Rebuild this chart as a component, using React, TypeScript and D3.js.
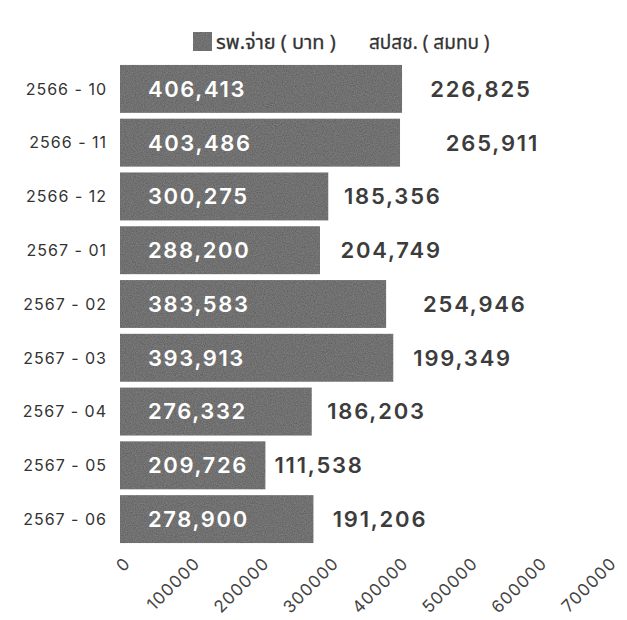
import React from "react";
import * as d3 from "d3";

const categories = ["2566 - 10", "2566 - 11", "2566 - 12", "2567 - 01", "2567 - 02", "2567 - 03", "2567 - 04", "2567 - 05", "2567 - 06"];
const hospitalPaid = [406413, 403486, 300275, 288200, 383583, 393913, 276332, 209726, 278900];
const nhsoShare = [226825, 265911, 185356, 204749, 254946, 199349, 186203, 111538, 191206];
const xTicks = [0, 100000, 200000, 300000, 400000, 500000, 600000, 700000];
const seriesNames = ["รพ.จ่าย ( บาท )", "สปสช. ( สมทบ )"];

const W = 627;
const H = 620;

export default function App() {
  const x = d3.scaleLinear().domain([0, 700000]).range([120, 606]);
  const y = d3.scaleBand<string>().domain(categories).range([62, 546]).paddingInner(0.11).paddingOuter(0.055);
  const fmt = d3.format(",");
  const bw = y.bandwidth();
  const barColor = "#565656";
  const numFont = "Inter, 'DejaVu Sans', sans-serif";
  const pnum = { fontVariantNumeric: "proportional-nums" } as React.CSSProperties;

  return (
    <svg width={W} height={H} style={{ position: "absolute", left: 0, top: 0, background: "#fff" }}>
      <defs>
        <filter id="grain" x="0" y="0" width="100%" height="100%">
          <feTurbulence type="fractalNoise" baseFrequency="0.9" numOctaves="2" seed="3" result="n" />
          <feColorMatrix in="n" type="matrix" values="0 0 0 0 0.5  0 0 0 0 0.5  0 0 0 0 0.5  0 0 0 0.35 0" result="g" />
          <feComposite in="g" in2="SourceGraphic" operator="in" result="gi" />
          <feMerge>
            <feMergeNode in="SourceGraphic" />
            <feMergeNode in="gi" />
          </feMerge>
        </filter>
      </defs>
      <rect x={0} y={0} width={W} height={H} fill="#fff" />
      {/* legend */}
      <g>
        <rect x={193} y={32} width={19} height={19} fill={barColor} filter="url(#grain)" />
        <text x={216} y={49} fontSize={20} fill="#333" stroke="#333" strokeWidth={0.3} fontFamily="Tahoma, 'Noto Sans Thai', 'Noto Sans', sans-serif">{seriesNames[0]}</text>
        <text x={369} y={49} fontSize={19} fill="#333" stroke="#333" strokeWidth={0.3} fontFamily="Tahoma, 'Noto Sans Thai', 'Noto Sans', sans-serif">{seriesNames[1]}</text>
      </g>
      {/* bars */}
      {categories.map((c, i) => {
        const y0 = y(c)!;
        const v1 = hospitalPaid[i];
        const v2 = nhsoShare[i];
        const label2 = fmt(v2);
        const halfW2 = (label2.length * 13) / 2;
        const cx2 = Math.max(x(v1 + v2 / 2), x(v1) + 8 + halfW2);
        return (
          <g key={c}>
            <rect x={x(0)} y={y0} width={x(v1) - x(0)} height={bw} fill={barColor} filter="url(#grain)" />
            <rect x={x(v1)} y={y0} width={x(v1 + v2) - x(v1)} height={bw} fill="#ffffff" />
            <text x={x(0) + 28} y={y0 + bw / 2} dy="0.36em" fontSize={22} fontWeight={600} letterSpacing={1.6}
              fill="#fff" fontFamily={numFont} style={pnum}>{fmt(v1)}</text>
            <text x={cx2} y={y0 + bw / 2} dy="0.36em" textAnchor="middle" fontSize={22} fontWeight={600} letterSpacing={1.8}
              fill="#3c3c3c" fontFamily={numFont} style={pnum}>{label2}</text>
            <text x={107} y={y0 + bw / 2} dy="0.36em" textAnchor="end" fontSize={16} letterSpacing={1} fill="#333" fontFamily={numFont}>{c}</text>
          </g>
        );
      })}
      {/* x axis tick labels */}
      {xTicks.map((t) => (
        <text key={t} transform={`translate(${x(t) + 3},${556}) rotate(-45)`} dy="0.71em" textAnchor="end"
          fontSize={17} letterSpacing={1} fill="#444" fontFamily={numFont}>{String(t)}</text>
      ))}
    </svg>
  );
}
